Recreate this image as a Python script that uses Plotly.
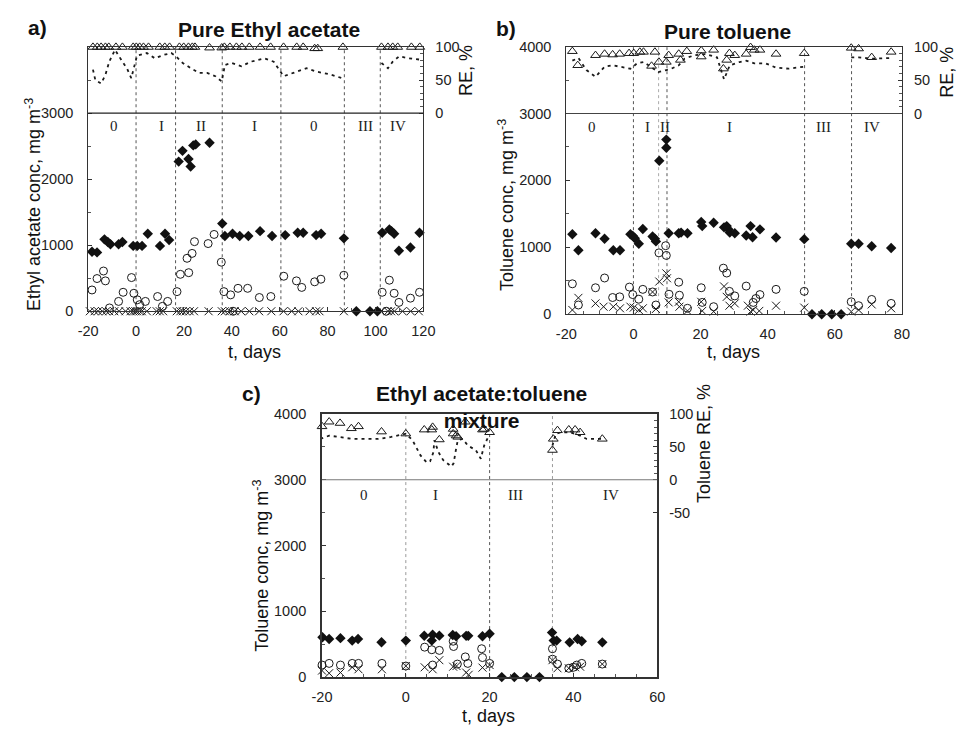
import plotly.graph_objects as go

W, H = 965, 734

# ================= DATA =================
# ---- panel a: pure ethyl acetate ----
a_in_t = [-18.4, -16.3, -13.2, -11.8, -10.7, -7.3, -5.7, -1.2, 0.5, 2.5, 4.9, 10.0, 12.1, 13.8,
          17.8, 19.4, 21.9, 22.8, 23.9, 24.9, 30.7, 36.0, 37.1, 40.3, 43.3, 46.9, 51.8, 56.8,
          62.3, 67.5, 69.8, 75.2, 77.3, 86.8, 92.0, 97.7, 100.8, 102.8, 105.8, 106.7, 107.8,
          109.8, 114.6, 118.4]
a_in_c = [901, 891, 1089, 1049, 1015, 1015, 1049, 990, 990, 990, 1173, 990, 1173, 1079,
          2266, 2429, 2305, 2192, 2512, 2527, 2552, 1327, 1139, 1173, 1139, 1139, 1213, 1139,
          1153, 1188, 1188, 1153, 1173, 1104, 0, 0, 0, 1188, 1238, 1213, 1173,
          916, 965, 1188]
a_out_t = [-18.4, -16.3, -13.6, -12.8, -11.1, -7.3, -5.4, -1.9, -0.9, 0.5, 1.5, 3.9, 9.0, 11.0,
           13.2, 17.1, 18.5, 21.3, 22.0, 23.4, 24.4, 30.1, 32.6, 35.6, 36.7, 39.5, 42.6, 46.6,
           51.5, 56.3, 61.7, 67.0, 69.2, 74.6, 77.2, 86.8, 102.8, 105.8, 107.8, 109.8, 114.6,
           118.4, 40.5, 104.5]
a_out_c = [322, 495, 609, 460, 50, 149, 287, 510, 272, 173, 100, 149, 223, 74,
           149, 297, 559, 802, 584, 876, 1054, 1025, 1163, 743, 297, 248, 347, 347,
           208, 223, 530, 460, 361, 446, 485, 545, 287, 470, 272, 134, 198,
           287, 0, 0]
a_x_t = [-19.3, -17.3, -15.9, -14.1, -12.5, -11.2, -9.1, -7.1, -4.4, -2.3, -1.2, -0.3, 0.4, 1.5,
         2.4, 4.5, 8.6, 9.9, 11.3, 17.0, 18.5, 19.5, 20.8, 22.4, 24.2, 30.3, 35.8, 37.1, 39.2,
         41.2, 43.9, 47.3, 51.4, 56.5, 61.6, 65.0, 67.8, 72.5, 75.2, 76.6, 86.8, 102.4, 105.2,
         106.5, 107.9, 111.3, 114.7, 118.1]
a_x_c = [0] * len(a_x_t)
a_re_t = [-18.0, -16.2, -14.6, -12.8, -11.4, -8.4, -5.7, -1.2, 0.1, 1.5, 3.1, 5.2, 9.9, 12.0,
          14.0, 18.1, 19.9, 21.9, 23.5, 24.6, 30.7, 35.8, 36.9, 39.2, 41.9, 44.2, 47.3, 51.8,
          56.2, 61.6, 67.1, 69.8, 74.6, 75.9, 86.4, 102.5, 105.2, 107.2, 109.3, 115.0, 118.5]
a_re_v = [100, 100, 100, 100, 100, 100, 100, 100, 100, 100, 100, 100, 100, 100,
          100, 100, 100, 100, 100, 100, 99, 99, 100, 100, 100, 100, 100, 100,
          100, 100, 100, 100, 98, 98, 100, 100, 100, 100, 100, 100, 100]
a_red_t = [-18.0, -17.0, -14.6, -12.8, -11.2, -8.8, -5.7, -3.7, -2.0, -0.3, 0.4, 4.5, 7.9, 11.3,
           14.7, 16.7, 19.5, 22.9, 26.3, 29.7, 33.1, 35.8, 37.1, 39.9, 44.0, 48.0, 53.5, 57.5,
           60.3, 61.6, 65.7, 71.2, 75.2, 80.7, 86.1, None, 102.5, 105.2, 107.2, 109.9, 114.0,
           118.8]
a_red_v = [66, 50, 45, 58, 78, 96, 78, 67, 53, 78, 87, 91, 83, 88,
           91, 86, 76, 68, 61, 61, 56, 48, 73, 76, 71, 78, 83, 78,
           63, 56, 61, 68, 63, 59, 53, None, 76, 68, 78, 86, 83,
           81]
a_phase_t = [-9.2, 10.6, 27.0, 49.4, 74.3, 96.0, 109.3]
a_phase_lbl = ["0", "I", "II", "I", "0", "III", "IV"]
a_bounds = [0, 16.5, 36, 60.5, 87, 102]
a_xticks = [-20, 0, 20, 40, 60, 80, 100, 120]

# ---- panel b: pure toluene ----
b_in_t = [-18.2, -16.4, -11.3, -8.6, -6.0, -4.0, -0.9, -0.2, 0.4, 1.6, 2.8, 5.7, 6.4, 6.7,
          7.7, 9.8, 9.8, 10.5, 13.5, 14.2, 16.1, 20.2, 20.5, 23.9, 27.0, 27.8, 28.3, 28.7,
          30.2, 33.6, 34.9, 35.5, 37.7, 42.5, 50.9, 53.2, 56.1, 59.1, 61.9, 64.9, 67.1,
          71.0, 76.8]
b_in_c = [1195, 956, 1210, 1127, 956, 956, 1195, 1171, 1137, 1054, 1273, 1161, 1127, 1088,
          2293, 2610, 2488, 1210, 1210, 1220, 1210, 1380, 1317, 1366, 1298, 1317, 1268, 1220,
          1210, 1176, 1317, 1151, 1268, 1146, 1122, 0, 0, 0, 0, 1054, 1054,
          1015, 990]
b_out_t = [-18.2, -16.4, -11.3, -8.6, -6.2, -4.1, -1.2, -0.2, 1.6, 2.8, 5.7, 6.7, 7.6, 9.6,
           9.8, 10.6, 13.5, 13.7, 16.1, 20.2, 20.5, 23.9, 26.8, 27.8, 28.6, 30.2, 33.6, 35.7,
           36.5, 37.7, 42.5, 50.9, 64.9, 67.1, 71.0, 76.8]
b_out_c = [454, 137, 395, 541, 249, 259, 405, 293, 224, 371, 332, 137, 917, 1024,
           878, 298, 478, 283, 88, 395, 176, 112, 688, 615, 341, 273, 420, 176,
           234, 293, 371, 341, 185, 127, 220, 161]
b_x_t = [-18.2, -16.4, -11.3, -8.9, -6.0, -4.0, -0.9, 0.1, 1.6, 2.8, 5.7, 6.7, 7.7, 9.8,
         10.0, 10.5, 13.5, 13.7, 16.1, 20.2, 20.5, 23.9, 27.0, 27.8, 28.6, 30.2, 34.1, 34.9,
         35.7, 37.5, 42.5, 50.9, 64.9, 67.1, 71.0, 76.8]
b_x_c = [63, 244, 161, 112, 112, 88, 112, 98, 63, 88, 332, 78, 488, 610,
         537, 176, 185, 112, 49, 185, 49, 39, 415, 259, 127, 161, 127, 39,
         63, 49, 127, 98, 39, 63, 146, 88]
b_re_t = [-18.2, -16.6, -11.3, -8.6, -6.2, -4.1, -1.3, 0.1, 1.9, 3.0, 6.4, 5.4, 7.6, 9.8,
          10.5, 13.5, 14.0, 15.9, 20.2, 20.2, 23.9, 26.8, 27.8, 28.6, 30.2, 33.6, 34.9, 36.0,
          37.7, 42.5, 50.9, 64.9, 67.1, 71.0, 76.8]
b_re_v = [93, 72, 87, 89, 88, 89, 90, 90, 92, 92, 92, 71, 77, 77,
          87, 89, 80, 93, 94, 85, 95, 67, 80, 90, 87, 89, 99, 95,
          95, 89, 90, 98, 97, 84, 92]
b_red_t = [-18.2, -16.4, -14.0, -11.3, -8.6, -6.2, -4.0, -0.9, 1.1, 3.0, 5.4, 7.4, 9.8, 11.3,
           13.5, 15.2, 18.1, 21.5, 24.9, 27.0, 28.7, 31.6, 33.6, 36.0, 39.4, 42.3, 46.2, 50.9,
           None, 64.9, 67.1, 71.0, 76.8]
b_red_v = [79, 83, 65, 55, 70, 72, 70, 67, 75, 77, 69, 62, 65, 67,
           72, 82, 87, 89, 84, 51, 72, 77, 79, 75, 75, 69, 67, 70,
           None, 84, 84, 82, 83]
b_phase_t = [-12.3, 4.1, 9.5, 28.5, 56.6, 71.2]
b_phase_lbl = ["0", "I", "II", "I", "III", "IV"]
b_bounds = [0, 7.5, 10, 51, 65]
b_xticks = [-20, 0, 20, 40, 60, 80]

# ---- panel c: ethyl acetate:toluene mixture ----
c_in_t = [-19.9, -18.3, -15.6, -12.8, -11.4, -5.8, 0.0, 4.4, 6.2, 6.4, 8.0, 11.2, 12.0, 14.4,
          14.9, 18.3, 20.0, 22.9, 25.9, 28.9, 31.9, 34.9, 35.3, 36.0, 39.1, 41.0, 42.0, 46.9]
c_in_c = [605, 580, 592, 555, 578, 530, 555, 628, 555, 644, 630, 640, 620, 627,
          627, 620, 658, 0, 0, 0, 0, 676, 555, 555, 528, 580, 545, 528]
c_out_t = [-20.0, -18.3, -15.6, -12.8, -11.3, -5.7, 0.0, 4.5, 6.2, 6.4, 8.0, 11.3, 11.4, 12.3,
           14.2, 14.8, 18.1, 18.3, 20.0, 35.0, 35.0, 36.2, 38.9, 40.0, 40.8, 42.0, 46.9]
c_out_c = [183, 208, 183, 208, 208, 208, 168, 455, 416, 183, 406, 545, 465, 198,
           307, 208, 431, 297, 208, 431, 272, 198, 134, 149, 183, 208, 198]
c_x_t = [-20.0, -18.3, -15.6, -12.8, -11.3, -5.7, 0.0, 4.5, 6.4, 8.0, 11.3, 12.1, 14.4, 15.0,
         18.3, 20.0, 35.0, 36.2, 38.9, 40.4, 41.6, 46.9]
c_x_c = [99, 59, 69, 149, 119, 119, 168, 149, 119, 257, 158, 168, 69, 35,
         144, 183, 257, 134, 134, 149, 158, 198]
c_re_t = [-20.0, -18.3, -15.7, -13.0, -11.3, -5.8, 0.0, 4.4, 6.2, 6.4, 8.0, 11.3, 11.3, 12.0,
          12.4, 14.2, 18.3, 18.7, 20.0, 35.0, 35.2, 36.2, 38.9, 40.4, 41.6, 46.9]
c_re_v = [81, 88, 86, 78, 81, 73, 70, 76, 76, 80, 61, 77, 70, 67,
          65, 88, 76, 77, 72, 45, 62, 75, 76, 76, 72, 62]
c_red_t = [-20.4, -18.3, -15.9, -12.8, -9.7, -6.6, -3.5, 0.0, 1.6, 3.5, 5.0, 5.8, 6.6, 6.8,
           7.8, 8.9, 10.9, 11.4, 12.0, 12.4, 13.6, 14.8, 16.7, 17.9, 18.7, 19.8, None,
           35.0, 35.8, 37.0, 39.3, 41.6, 43.2, 44.7, 46.9]
c_red_v = [62, 67, 65, 62, 62, 62, 65, 70, 60, 37, 26, 28, 42, 60,
           42, 30, 20, 25, 47, 60, 62, 52, 45, 32, 52, 67, None,
           52, 70, 72, 72, 67, 62, 62, 62]
c_phase_t = [-10.1, 7.1, 26.2, 49.0]
c_phase_lbl = ["0", "I", "III", "IV"]
c_bounds = [0, 20, 35]
c_xticks = [-20, 0, 20, 40, 60]

conc_ticks_a = [0, 1000, 2000, 3000]
conc_ticks_bc = [0, 1000, 2000, 3000, 4000]
re_ticks_ab = [0, 50, 100]
re_ticks_c = [-50, 0, 50, 100]

# ================= FIGURE =================
INK = "#1a1a1a"
SANS = "Liberation Sans, Arial, sans-serif"
SERIF = "Liberation Serif, Times New Roman, serif"

fig = go.Figure()


def add_panel(xa, yl, yr, in_t, in_c, out_t, out_c, x_t, x_c, re_t, re_v, red_t, red_v):
    fig.add_trace(go.Scatter(x=red_t, y=red_v, xaxis=xa, yaxis=yr, mode="lines",
                             line=dict(color=INK, width=1.8, dash="3px,4px"),
                             connectgaps=False, showlegend=False, cliponaxis=False))
    fig.add_trace(go.Scatter(x=re_t, y=re_v, xaxis=xa, yaxis=yr, mode="markers",
                             marker=dict(symbol="triangle-up-open", size=8.5, color=INK,
                                         line=dict(width=1, color=INK)),
                             showlegend=False, cliponaxis=False))
    fig.add_trace(go.Scatter(x=x_t, y=x_c, xaxis=xa, yaxis=yl, mode="markers",
                             marker=dict(symbol="x-thin-open", size=8, color=INK,
                                         line=dict(width=1, color=INK)),
                             showlegend=False, cliponaxis=False))
    fig.add_trace(go.Scatter(x=out_t, y=out_c, xaxis=xa, yaxis=yl, mode="markers",
                             marker=dict(symbol="circle-open", size=8, color=INK,
                                         line=dict(width=1, color=INK)),
                             showlegend=False, cliponaxis=False))
    fig.add_trace(go.Scatter(x=in_t, y=in_c, xaxis=xa, yaxis=yl, mode="markers",
                             marker=dict(symbol="diamond", size=8, color="#111111",
                                         line=dict(width=0)),
                             showlegend=False, cliponaxis=False))


add_panel("x", "y", "y2", a_in_t, a_in_c, a_out_t, a_out_c, a_x_t, a_x_c,
          a_re_t, a_re_v, a_red_t, a_red_v)
add_panel("x2", "y3", "y4", b_in_t, b_in_c, b_out_t, b_out_c, b_x_t, b_x_c,
          b_re_t, b_re_v, b_red_t, b_red_v)
add_panel("x3", "y5", "y6", c_in_t, c_in_c, c_out_t, c_out_c, c_x_t, c_x_c,
          c_re_t, c_re_v, c_red_t, c_red_v)

tickfont = dict(family=SANS, size=14.5, color="#222")


def lbl(v):
    return str(v)  # plain hyphen-minus as in the reference


def xax(dom, anchor, rng, ticks, minor, lw=1):
    return dict(domain=dom, anchor=anchor, range=rng, tickvals=ticks,
                ticktext=[lbl(v) for v in ticks],
                ticks="inside", ticklen=4, tickcolor="#333", showline=True, mirror=True,
                linecolor="#333", linewidth=lw, showgrid=False, zeroline=False,
                tickfont=tickfont, ticklabelstandoff=6,
                minor=dict(ticks="inside", dtick=minor, ticklen=3, tickcolor="#555"))


def yax(dom, anchor, tv, lw=1):
    return dict(domain=dom, anchor=anchor, range=[0, 4000], tickvals=tv,
                ticktext=[lbl(v) for v in tv],
                ticks="inside", ticklen=4, tickcolor="#333", showline=True, mirror=True,
                linecolor="#333", linewidth=lw, showgrid=False, zeroline=False,
                tickfont=tickfont, ticklabelstandoff=11,
                minor=dict(ticks="inside", dtick=500, ticklen=3, tickcolor="#555"))


def rax(over, anchor, tv):
    return dict(overlaying=over, anchor=anchor, side="right", range=[-300, 100],
                tickvals=tv, ticktext=[lbl(v) for v in tv],
                ticks="inside", ticklen=4, tickcolor="#333",
                showline=False, showgrid=False, zeroline=False, tickfont=tickfont,
                ticklabelstandoff=11,
                minor=dict(ticks="inside", tickvals=list(range(0, 101, 10)), ticklen=3,
                           tickcolor="#555"))


def dx(a, b):
    return [a / W, b / W]


def dy(top, bottom):
    return [1 - bottom / H, 1 - top / H]


layout = dict(
    width=W, height=H, margin=dict(l=0, r=0, t=0, b=0),
    paper_bgcolor="white", plot_bgcolor="white", showlegend=False,
    xaxis=xax(dx(80, 423), "y", [-20, 120], a_xticks, 10),
    yaxis=yax(dy(40, 310), "x", conc_ticks_a),
    yaxis2=rax("y", "x", re_ticks_ab),
    xaxis2=xax(dx(569.3, 912.7), "y3", [-20, 80], b_xticks, 5),
    yaxis3=yax(dy(39.5, 313), "x2", conc_ticks_bc),
    yaxis4=rax("y3", "x2", re_ticks_ab),
    xaxis3=xax(dx(319.3, 662.3), "y5", [-20, 60], c_xticks, 5, lw=1.6),
    yaxis5=yax(dy(415, 684), "x3", conc_ticks_bc, lw=1.6),
    yaxis6=rax("y5", "x3", re_ticks_c),
)
fig.update_layout(**layout)

shapes = []
anns = []


def panel_deco(xref, yref, bounds, phase_t, phase_lbl, phase_y, bound_colors, sep_color):
    for v, col in zip(bounds, bound_colors):
        shapes.append(dict(type="line", xref=xref, yref=yref + " domain", x0=v, x1=v,
                           y0=0, y1=1, line=dict(color=col, width=1, dash="dot"),
                           layer="below"))
    shapes.append(dict(type="line", xref=xref + " domain", yref=yref, x0=0, x1=1,
                       y0=3000, y1=3000, line=dict(color=sep_color, width=1.2)))
    for t, lb in zip(phase_t, phase_lbl):
        anns.append(dict(x=t, y=phase_y, xref=xref, yref=yref, text=lb, showarrow=False,
                         font=dict(family=SERIF, size=15, color="#222")))


panel_deco("x", "y", a_bounds, a_phase_t, a_phase_lbl, 2800,
           ["#555"] * 6, "#222")
panel_deco("x2", "y3", b_bounds, b_phase_t, b_phase_lbl, 2800,
           ["#555", "#aaa", "#555", "#555", "#555"], "#444")
panel_deco("x3", "y5", c_bounds, c_phase_t, c_phase_lbl, 2770,
           ["#999", "#555", "#999"], "#777")


def paper_text(x, y, text, size, bold=False, angle=0):
    if bold:
        text = "<b>" + text + "</b>"
    anns.append(dict(x=x / W, y=1 - y / H, xref="paper", yref="paper", text=text,
                     showarrow=False, textangle=angle, xanchor="center", yanchor="middle",
                     font=dict(family=SANS, size=size, color="#111")))


# titles and panel letters
paper_text(28, 20, "a)", 21, bold=True)
paper_text(265, 22, "Pure Ethyl acetate", 21, bold=True)
paper_text(508, 21, "b)", 21, bold=True)
paper_text(734, 24, "Pure toluene", 21, bold=True)
paper_text(247, 394, "c)", 21, bold=True)
paper_text(483, 408, "Ethyl acetate:toluene<br>mixture", 21, bold=True)

# axis titles
paper_text(250, 352, "t, days", 18)
paper_text(740, 352, "t, days", 18)
paper_text(490, 724, "t, days", 18)
paper_text(24, 201, "Ethyl acetate conc, mg m<sup>-3</sup>", 18, angle=-90)
paper_text(508, 201, "Toluene conc, mg m<sup>-3</sup>", 18, angle=-90)
paper_text(257, 570, "Toluene conc, mg m<sup>-3</sup>", 18, angle=-90)
paper_text(466, 64, "RE, %", 18, angle=-90)
paper_text(958, 66, "RE, %", 18, angle=-90)
paper_text(711, 445, "Toluene RE, %", 18, angle=-90)

fig.update_layout(shapes=shapes, annotations=anns)

fig.write_html("out.html")
